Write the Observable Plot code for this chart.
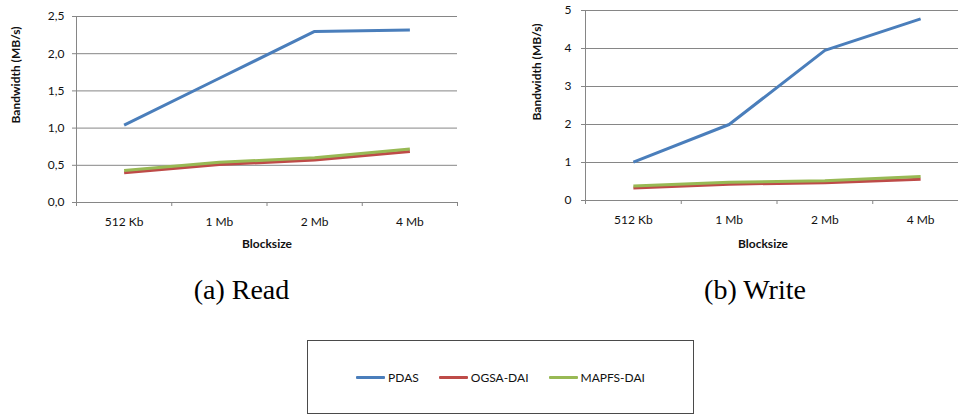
<!DOCTYPE html>
<html>
<head>
<meta charset="utf-8">
<script src="https://cdn.jsdelivr.net/npm/d3@7"></script>
<script src="https://cdn.jsdelivr.net/npm/@observablehq/plot@0.6"></script>
<style>
  html, body { margin: 0; padding: 0; background: #fff; overflow: hidden; }
  #wrap { position: relative; width: 958px; height: 414px; overflow: hidden; }
  .chart { position: absolute; top: 0; }
  .caption { position: absolute; width: 300px; text-align: center; font-family: "Liberation Serif", "Times New Roman", serif; font-size: 28px; line-height: 28px; color: #000; white-space: nowrap; }
  #legend { position: absolute; left: 307px; top: 340px; width: 387px; height: 74px; box-sizing: border-box; border: 1px solid #4a4a4a; display: flex; align-items: center; justify-content: center; font-family: Lato, sans-serif; font-size: 12px; color: #111; }
  .item { display: flex; align-items: center; margin: 0 10px; }
  .swatch { display: inline-block; width: 29px; height: 3px; margin-right: 3px; border-radius: 1px; }
</style>
</head>
<body>
<div id="wrap"></div>
<script>
const categories = ["512 Kb", "1 Mb", "2 Mb", "4 Mb"];
const seriesNames = ["PDAS", "OGSA-DAI", "MAPFS-DAI"];
const seriesColors = ["#4A7EBB", "#BE4B48", "#98B954"];

const readPDAS  = [1.04, 1.67, 2.30, 2.32];
const readOGSA  = [0.40, 0.51, 0.57, 0.685];
const readMAPFS = [0.43, 0.54, 0.60, 0.72];

const writePDAS  = [1.01, 2.00, 3.95, 4.78];
const writeOGSA  = [0.33, 0.43, 0.47, 0.56];
const writeMAPFS = [0.38, 0.48, 0.52, 0.63];

const readTicks  = [0, 0.5, 1.0, 1.5, 2.0, 2.5];
const writeTicks = [0, 1, 2, 3, 4, 5];

const yTitle = "Bandwidth (MB/s)";
const xTitle = "Blocksize";
const captions = ["(a) Read", "(b) Write"];

function rowsOf(seriesValues) {
  return seriesValues.flatMap((vals, s) =>
    vals.map((v, i) => ({name: seriesNames[s], pos: i + 0.5, v})));
}

function makeChart(o) {
  const rows = rowsOf(o.series);
  return Plot.plot({
    width: o.width,
    height: 260,
    marginLeft: o.marginLeft,
    marginRight: o.marginRight,
    marginTop: o.marginTop,
    marginBottom: o.marginBottom,
    style: {fontFamily: "Lato, sans-serif", fontSize: "12px", color: "#111", background: "transparent", overflow: "visible"},
    x: {domain: [0, categories.length]},
    y: {domain: [o.ticks[0], o.ticks[o.ticks.length - 1]]},
    color: {domain: seriesNames, range: seriesColors},
    marks: [
      Plot.gridY(o.ticks, {stroke: "#868686", strokeOpacity: 1}),
      Plot.ruleX([0], {stroke: "#868686"}),
      Plot.axisY(o.ticks, {tickSize: 4, tickPadding: o.tickPadding, tickFormat: o.fmt, stroke: "#868686", fill: "#111", label: null}),
      Plot.axisX(d3.range(categories.length + 1), {tickSize: 4, tickFormat: () => "", stroke: "#868686", label: null}),
      Plot.axisX(categories.map((_, i) => i + 0.5), {tickSize: 0, tickPadding: 15, tickFormat: d => categories[Math.round(d - 0.5)], fill: "#111", label: null}),
      Plot.text([yTitle], {frameAnchor: "left", rotate: -90, dx: o.yTitleDx, dy: o.yTitleDy, fontWeight: "bold", fill: "#111"}),
      Plot.text([xTitle], {frameAnchor: "bottom", dx: o.xTitleDx, dy: o.xTitleDy, fontWeight: "bold", fill: "#111"}),
      Plot.line(rows, {x: "pos", y: "v", z: "name", stroke: "name", strokeWidth: 3, strokeLinejoin: "round", strokeLinecap: "butt"})
    ]
  });
}

const wrap = document.getElementById("wrap");

const left = makeChart({
  width: 479, marginLeft: 76, marginRight: 22, marginTop: 16, marginBottom: 58,
  ticks: readTicks, fmt: d => d.toFixed(1).replace(".", ","), tickPadding: 8,
  series: [readPDAS, readOGSA, readMAPFS],
  yTitleDx: -60, yTitleDy: 14, xTitleDx: 0, xTitleDy: 45
});
left.classList.add("chart");
left.style.left = "0px";
wrap.appendChild(left);

const right = makeChart({
  width: 500, marginLeft: 106, marginRight: 11, marginTop: 10, marginBottom: 60,
  ticks: writeTicks, fmt: d => String(d), tickPadding: 10,
  series: [writePDAS, writeOGSA, writeMAPFS],
  yTitleDx: -48, yTitleDy: 15, xTitleDx: -14, xTitleDy: 47
});
right.classList.add("chart");
right.style.left = "479px";
wrap.appendChild(right);

const capCenters = [241.5, 755];
captions.forEach((c, i) => {
  const d = document.createElement("div");
  d.className = "caption";
  d.textContent = c;
  d.style.left = (capCenters[i] - 150) + "px";
  d.style.top = "276px";
  wrap.appendChild(d);
});

const legend = document.createElement("div");
legend.id = "legend";
seriesNames.forEach((n, i) => {
  const it = document.createElement("div");
  it.className = "item";
  const sw = document.createElement("span");
  sw.className = "swatch";
  sw.style.background = seriesColors[i];
  const tx = document.createElement("span");
  tx.textContent = n;
  it.appendChild(sw);
  it.appendChild(tx);
  legend.appendChild(it);
});
wrap.appendChild(legend);
</script>
</body>
</html>
